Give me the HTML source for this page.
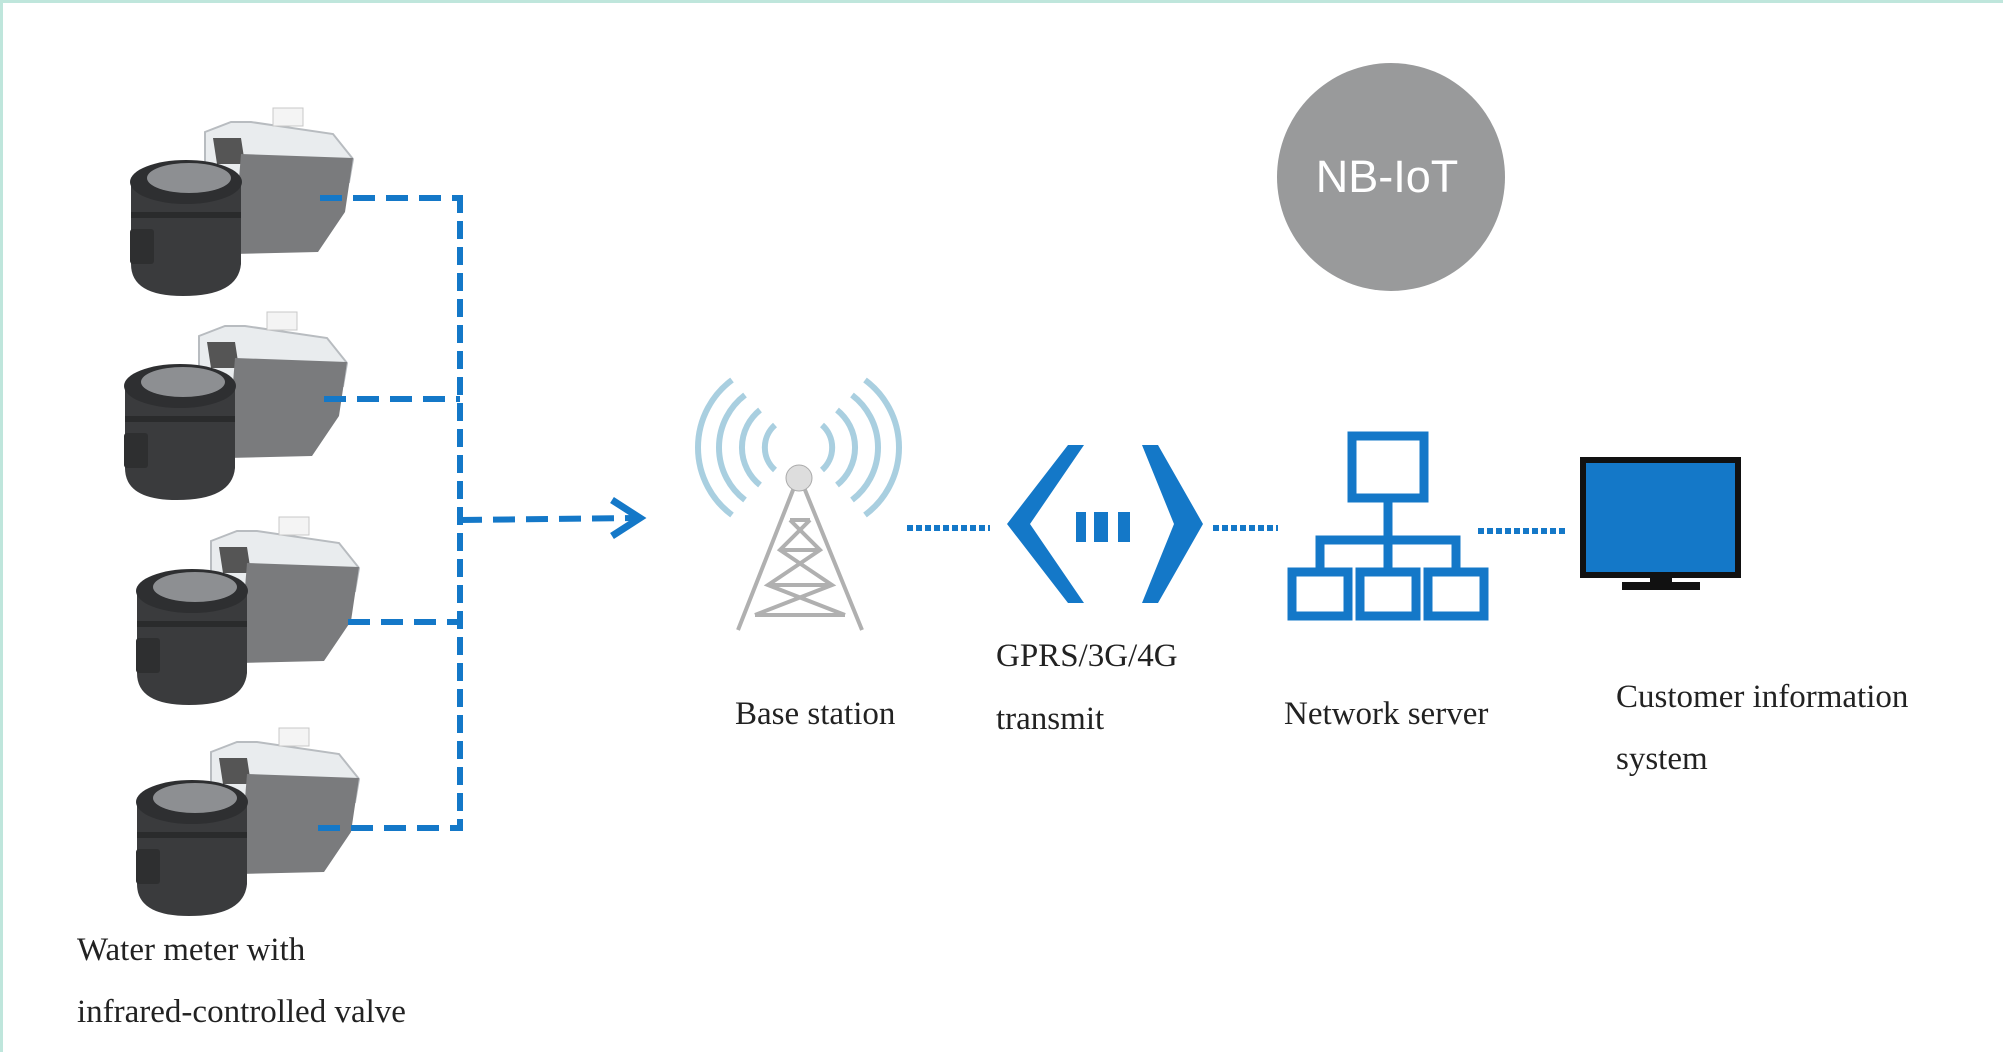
<!DOCTYPE html>
<html><head><meta charset="utf-8"><style>
html,body{margin:0;padding:0;background:#fff;}
body{width:2003px;height:1052px;overflow:hidden;position:relative;}
</style></head><body>
<svg width="2003" height="1052" viewBox="0 0 2003 1052" xmlns="http://www.w3.org/2000/svg" style="position:absolute;left:0;top:0">
<defs>
<g id="meter">
  <path d="M92 28 L118 18 L138 18 L220 30 L240 55 L236 78 L128 84 L92 60 Z" fill="#e9ecee" stroke="#b8bcc0" stroke-width="2"/>
  <rect x="160" y="4" width="30" height="18" fill="#f4f4f4" stroke="#c8c8c8"/>
  <path d="M100 34 L128 34 L132 60 L104 60 Z" fill="#555"/>
  <path d="M128 50 L240 54 L232 108 L205 148 L120 150 Z" fill="#7a7b7d"/>
  <path d="M18 80 L18 160 Q18 192 70 192 Q125 192 128 160 L128 80 Z" fill="#3a3b3d"/>
  <ellipse cx="73" cy="78" rx="56" ry="22" fill="#2e2f31"/>
  <ellipse cx="76" cy="74" rx="42" ry="15" fill="#8d8f92"/>
  <rect x="18" y="108" width="110" height="6" fill="#2a2b2c"/>
  <rect x="17" y="125" width="24" height="35" rx="3" fill="#2e2f30"/>
</g>
</defs>
<rect x="0" y="0" width="2003" height="3" fill="#bfe6dc"/>
<rect x="0" y="0" width="3" height="1052" fill="#bfe6dc"/>

<use href="#meter" x="113" y="104"/>
<use href="#meter" x="107" y="308"/>
<use href="#meter" x="119" y="513"/>
<use href="#meter" x="119" y="724"/>

<g stroke="#1478c8" stroke-width="6" fill="none" stroke-dasharray="22 11">
  <line x1="320" y1="198" x2="460" y2="198"/>
  <line x1="324" y1="399" x2="460" y2="399"/>
  <line x1="348" y1="622" x2="460" y2="622"/>
  <line x1="318" y1="828" x2="460" y2="828"/>
  <line x1="460" y1="195" x2="460" y2="831" stroke-dasharray="18 8"/>
  <line x1="460" y1="520" x2="636" y2="518"/>
</g>
<path d="M612 500 L640 518 L612 536" stroke="#1478c8" stroke-width="7" fill="none"/>

<g fill="none">
  <g stroke="#a9cfe0" stroke-width="6">
    <path d="M775 470 A30 30 0 0 1 775 425"/><path d="M822 425 A30 30 0 0 1 822 470"/>
    <path d="M760 485 A48 48 0 0 1 760 410"/><path d="M837 410 A48 48 0 0 1 837 485"/>
    <path d="M745 500 A66 66 0 0 1 745 395"/><path d="M852 395 A66 66 0 0 1 852 500"/>
    <path d="M732 515 A84 84 0 0 1 732 380"/><path d="M865 380 A84 84 0 0 1 865 515"/>
  </g>
  <g stroke="#b0b0b0" stroke-width="4">
    <path d="M795 485 L738 630 M803 485 L862 630 M790 520 L810 520 M780 550 L820 550 M768 585 L832 585 M755 615 L845 615 M790 520 L820 550 L768 585 L845 615 M810 520 L780 550 L832 585 L755 615"/>
  </g>
  <circle cx="799" cy="478" r="13" fill="#ddd" stroke="#aaa"/>
</g>

<g stroke="#1478c8" stroke-width="6" stroke-dasharray="6 3">
  <line x1="907" y1="528" x2="990" y2="528"/>
  <line x1="1213" y1="528" x2="1278" y2="528"/>
  <line x1="1478" y1="531" x2="1565" y2="531"/>
</g>
<g fill="#1478c8">
  <path d="M1068 445 L1084 445 L1030 524 L1084 603 L1068 603 L1007 524 Z"/>
  <path d="M1142 445 L1158 445 L1203 524 L1158 603 L1142 603 L1174 524 Z"/>
  <rect x="1076" y="512" width="10" height="30"/>
  <rect x="1094" y="512" width="14" height="30"/>
  <rect x="1118" y="512" width="12" height="30"/>
</g>
<g fill="none" stroke="#1478c8" stroke-width="9">
  <rect x="1352" y="436" width="72" height="62"/>
  <line x1="1388" y1="498" x2="1388" y2="540"/>
  <path d="M1320 570 L1320 540 L1456 540 L1456 570 M1388 540 L1388 570"/>
  <rect x="1292" y="572" width="56" height="44"/>
  <rect x="1360" y="572" width="56" height="44"/>
  <rect x="1428" y="572" width="56" height="44"/>
</g>
<rect x="1583" y="460" width="155" height="115" fill="#1478c8" stroke="#111" stroke-width="6"/>
<rect x="1650" y="575" width="22" height="8" fill="#111"/>
<rect x="1622" y="582" width="78" height="8" fill="#111"/>

<circle cx="1391" cy="177" r="114" fill="#999a9b"/>
<text x="1387" y="192" text-anchor="middle" font-family="Liberation Sans, sans-serif" font-size="45" fill="#fff">NB-IoT</text>

<g font-family="Liberation Serif, serif" font-size="33" fill="#222">
  <text x="735" y="724">Base station</text>
  <text x="996" y="666">GPRS/3G/4G</text>
  <text x="996" y="729">transmit</text>
  <text x="1284" y="724">Network server</text>
  <text x="1616" y="707">Customer information</text>
  <text x="1616" y="769">system</text>
  <text x="77" y="960">Water meter with</text>
  <text x="77" y="1022">infrared-controlled valve</text>
</g>
</svg>
</body></html>
